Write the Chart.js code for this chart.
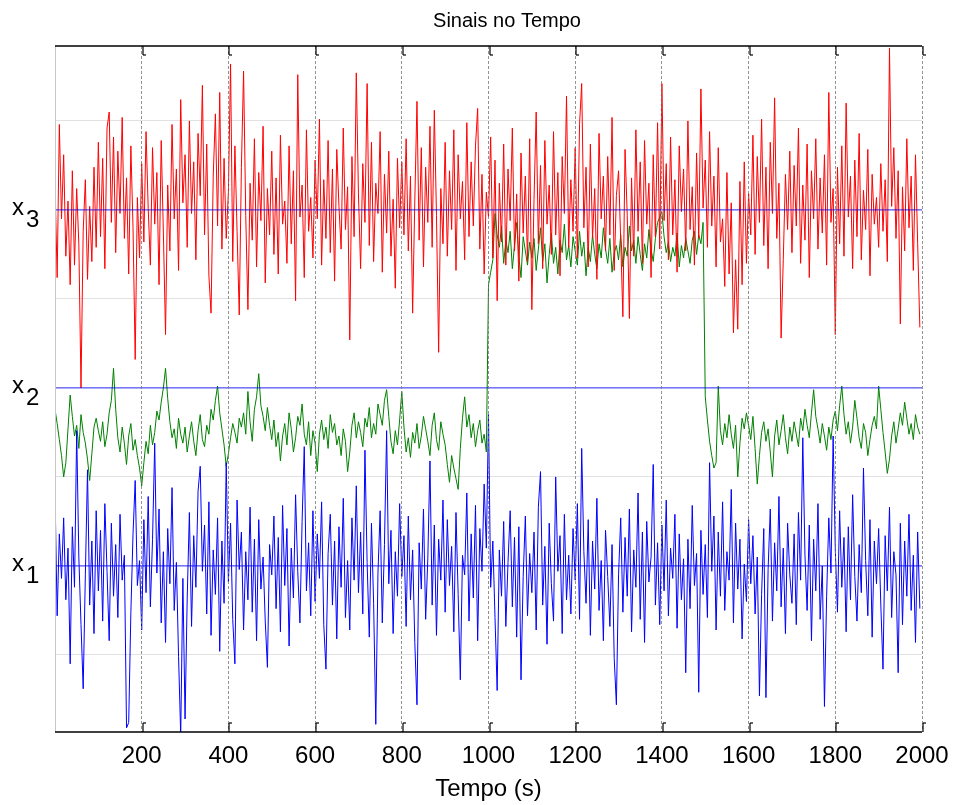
<!DOCTYPE html>
<html>
<head>
<meta charset="utf-8">
<title>Sinais no Tempo</title>
<script src="https://cdn.jsdelivr.net/npm/chart.js@4.4.1/dist/chart.umd.min.js"></script>
<style>
  html, body { margin: 0; padding: 0; background: #fff; }
  canvas { display: block; }
</style>
</head>
<body>
<canvas id="sinais" width="955" height="805"></canvas>
<script>
// one sample every 5 s, from t = 0
const sampleStep = 5

// x3 (red), 100 s per row
const x3Values = [
    3.15, 2.62, 3.48, 2.95, 3.31, 2.74, 3.05, 2.58, 3.22, 2.69, 3.12, 2.81, 2.00, 2.88, 3.17, 2.61, 3.02, 2.71, 3.24, 2.79,
    3.38, 2.85, 3.29, 2.67, 3.46, 3.55, 2.93, 3.41, 2.76, 3.33, 2.98, 3.52, 2.84, 3.18, 2.64, 3.36, 2.90, 2.16, 3.07, 2.73,
    3.26, 2.82, 3.44, 3.01, 2.69, 3.35, 2.92, 3.21, 2.58, 3.39, 2.87, 2.30, 3.14, 2.77, 3.48, 2.95, 3.23, 2.66, 3.62, 3.04,
    3.31, 2.79, 3.50, 2.98, 3.27, 2.72, 3.43, 3.08, 3.70, 2.86, 3.37, 2.63, 2.42, 3.19, 3.54, 2.91, 3.66, 2.78, 3.29, 2.84,
    3.10, 3.82, 2.71, 3.36, 2.88, 2.41, 3.24, 3.78, 2.97, 2.44, 3.15, 2.83, 3.40, 2.68, 3.21, 2.94, 3.47, 2.59, 3.12, 2.86,
    3.33, 2.75, 3.18, 2.64, 3.42, 2.92, 3.05, 2.70, 3.36, 2.81, 3.22, 2.49, 3.76, 2.96, 3.14, 2.62, 3.45, 2.88, 3.07, 2.73,
    3.28, 2.95, 3.51, 2.69, 3.17, 2.84, 3.39, 2.76, 3.23, 2.60, 3.34, 3.02, 2.78, 3.46, 2.89, 3.13, 2.27, 3.30, 2.85, 3.77,
    3.09, 2.67, 3.26, 2.93, 3.71, 2.80, 3.38, 2.71, 3.15, 2.98, 3.44, 2.65, 3.20, 2.87, 3.33, 2.74, 3.06, 2.56, 3.29, 2.90,
    3.27, 2.86, 3.40, 2.77, 3.19, 2.42, 3.05, 3.61, 2.83, 3.35, 2.68, 3.24, 2.93, 3.47, 2.79, 3.56, 2.97, 2.20, 3.12, 2.81,
    3.38, 2.74, 3.22, 2.89, 3.45, 2.66, 3.31, 2.95, 3.16, 2.72, 3.49, 2.85, 3.27, 2.91, 3.36, 3.57, 2.78, 3.20, 2.64, 3.10,
    2.96, 3.41, 2.73, 3.28, 2.49, 3.15, 2.82, 3.37, 2.69, 3.23, 2.94, 3.46, 2.77, 3.09, 2.60, 3.32, 2.87, 3.19, 2.71, 3.40,
    2.44, 3.06, 3.55, 2.81, 3.25, 2.67, 3.39, 2.92, 3.14, 2.75, 3.44, 2.86, 3.21, 2.63, 3.30, 2.98, 3.64, 2.79, 3.17, 2.88,
    3.35, 2.73, 3.48, 3.71, 2.90, 3.24, 2.68, 3.37, 2.84, 3.12, 2.61, 3.43, 2.95, 3.19, 2.77, 3.30, 2.86, 3.52, 2.66, 3.08,
    3.22, 2.83, 2.40, 3.34, 2.97, 2.39, 3.18, 2.74, 3.45, 2.88, 3.27, 2.70, 3.39, 2.92, 3.15, 2.62, 3.31, 2.85, 3.49, 2.78,
    3.71, 2.94, 3.26, 2.72, 3.41, 2.86, 3.17, 2.65, 3.36, 2.99, 3.23, 2.77, 3.50, 2.89, 3.13, 2.69, 3.32, 2.84, 3.68, 3.01,
    3.28, 2.79, 3.44, 2.91, 3.19, 2.68, 3.35, 2.82, 2.95, 2.57, 3.21, 2.64, 3.04, 2.31, 2.72, 2.33, 3.16, 2.58, 3.27, 2.70,
    3.09, 2.86, 3.42, 2.75, 3.30, 2.93, 3.51, 2.80, 3.24, 2.67, 3.38, 2.98, 3.63, 2.84, 3.15, 2.28, 2.72, 3.20, 2.89, 3.33,
    2.76, 3.25, 2.91, 3.46, 2.70, 3.14, 2.83, 3.37, 2.62, 3.22, 2.95, 3.40, 2.78, 3.18, 2.87, 3.31, 2.69, 3.66, 2.93, 3.12,
    2.30, 3.24, 2.81, 3.36, 2.74, 3.60, 2.96, 3.19, 2.67, 3.28, 2.85, 3.43, 2.72, 3.11, 2.89, 3.34, 2.63, 3.20, 2.92, 3.07,
    2.79, 3.26, 2.88, 3.17, 2.71, 3.91, 3.02, 3.35, 2.84, 3.22, 2.36, 3.13, 2.77, 3.40, 2.90, 3.19, 2.66, 3.31, 2.81, 2.34
]

// x2 (green), steps up at 1000 s and back down at 1500 s
const x2Values = [
    1.88, 1.80, 1.71, 1.62, 1.50, 1.58, 1.77, 1.96, 1.84, 1.73, 1.79, 1.66, 1.85, 1.75, 1.69, 1.60, 1.48, 1.63, 1.78, 1.83,
    1.76, 1.70, 1.81, 1.67, 1.74, 1.86, 1.93, 2.11, 1.88, 1.72, 1.64, 1.78, 1.69, 1.57, 1.73, 1.80, 1.65, 1.71, 1.62, 1.55,
    1.45, 1.58, 1.70, 1.63, 1.79, 1.68, 1.75, 1.87, 1.82, 1.92, 2.00, 2.11, 1.94, 1.81, 1.72, 1.77, 1.66, 1.83, 1.74, 1.69,
    1.78, 1.64, 1.73, 1.81, 1.70, 1.62, 1.76, 1.85, 1.71, 1.67, 1.79, 1.74, 1.88, 1.82, 1.93, 2.01, 1.86, 1.77, 1.68, 1.56,
    1.63, 1.72, 1.80, 1.75, 1.69, 1.83, 1.78, 1.86, 1.74, 1.98, 1.81, 1.70, 1.88, 1.95, 2.08, 1.90, 1.84, 1.76, 1.89, 1.79,
    1.71, 1.82, 1.67, 1.75, 1.59, 1.73, 1.80, 1.68, 1.86, 1.77, 1.64, 1.72, 1.84, 1.79, 1.91, 1.74, 1.68, 1.81, 1.62, 1.76,
    1.69, 1.53, 1.74, 1.82, 1.71, 1.78, 1.66, 1.85, 1.75, 1.80, 1.68, 1.73, 1.62, 1.77, 1.70, 1.53, 1.64, 1.79, 1.86, 1.72,
    1.81, 1.75, 1.67, 1.83, 1.78, 1.89, 1.72, 1.80, 1.74, 1.91, 1.85, 1.79, 1.93, 1.99, 1.84, 1.70, 1.63, 1.76, 1.68, 1.82,
    1.98, 1.78, 1.64, 1.72, 1.61, 1.75, 1.69, 1.80, 1.66, 1.73, 1.84, 1.77, 1.70, 1.62, 1.79, 1.86, 1.71, 1.65, 1.81, 1.74,
    1.68, 1.57, 1.47, 1.62, 1.55, 1.49, 1.43, 1.66, 1.83, 1.95, 1.78, 1.85, 1.72, 1.80, 1.67, 1.76, 1.82, 1.69, 1.74, 1.64,
    2.58, 2.65, 2.72, 2.98, 2.86, 2.79, 2.91, 2.70, 2.83, 2.76, 2.88, 2.67, 2.80, 2.93, 2.74, 2.62, 2.85, 2.77, 2.69, 2.82,
    2.73, 2.84, 2.66, 2.78, 2.90, 2.71, 2.81, 2.59, 2.75, 2.87, 2.70, 2.79, 2.64, 2.83, 2.76, 2.92, 2.72, 2.80, 2.68, 2.85,
    2.77, 2.69, 2.88, 2.74, 2.82, 2.63, 2.79, 2.71, 2.86, 2.75, 2.67, 2.81, 2.73, 2.90, 2.78, 2.70, 2.84, 2.65, 2.76, 2.80,
    2.72, 2.86, 2.68, 2.79, 2.74, 2.91, 2.77, 2.83, 2.70, 2.85, 2.75, 2.66, 2.81, 2.73, 2.89, 2.78, 2.71, 2.84, 2.93, 2.96,
    2.99, 2.85, 2.76, 2.82, 2.71, 2.79, 2.74, 2.87, 2.68, 2.80, 2.73, 2.84, 2.77, 2.70, 2.83, 2.88, 2.75, 2.86, 2.81, 2.93,
    1.95, 1.82, 1.70, 1.62, 1.55, 1.58, 2.01, 1.76, 1.68, 1.80, 1.72, 1.85, 1.74, 1.66, 1.79, 1.50, 1.69, 1.83, 1.77, 1.86,
    1.79, 1.71, 1.84, 1.66, 1.46, 1.62, 1.75, 1.81, 1.70, 1.77, 1.64, 1.50, 1.73, 1.82, 1.68, 1.76, 1.85, 1.72, 1.63, 1.78,
    1.70, 1.81, 1.74, 1.67, 1.83, 1.76, 1.88, 1.79, 1.72, 1.86, 1.99, 1.84, 1.77, 1.69, 1.80, 1.73, 1.65, 1.78, 1.71, 1.82,
    1.87, 1.76, 1.90, 2.01, 1.85, 1.74, 1.81, 1.69, 1.78, 1.93, 1.83, 1.72, 1.66, 1.80, 1.75, 1.62, 1.71, 1.79, 1.84, 1.77,
    2.01, 1.88, 1.75, 1.64, 1.52, 1.60, 1.73, 1.81, 1.69, 1.77, 1.86, 1.79, 1.92, 1.83, 1.74, 1.80, 1.71, 1.85, 1.78, 1.74
]

// x1 (blue)
const x1Values = [
    1.41, 0.72, 1.18, 0.93, 1.27, 0.81, 1.10, 0.45, 1.22, 0.88, 1.76, 1.05, 0.67, 0.31, 0.95, 1.54, 0.78, 1.14, 0.62, 1.31,
    0.86, 1.20, 0.69, 1.35, 0.97, 0.58, 1.24, 0.83, 1.12, 0.71, 1.29, 0.92, 1.06, 0.09, 0.12, 0.74, 1.18, 1.48, 0.89, 1.03,
    0.64, 1.26, 0.85, 1.39, 0.77, 1.15, 1.69, 0.96, 1.32, 0.68, 1.08, 0.57, 1.21, 0.90, 1.44, 0.75, 1.02, 0.49, 0.05, 0.93,
    0.14, 0.82, 1.30, 0.66, 1.17, 0.88, 1.42, 1.56, 0.97, 1.23, 0.73, 1.36, 0.61, 1.09, 0.84, 1.27, 0.52, 1.14, 0.79, 1.58,
    0.91, 1.24, 0.70, 0.45, 1.37, 0.98, 1.19, 0.64, 1.08, 0.81, 1.33, 0.74, 1.15, 0.58, 1.26, 0.87, 1.05, 0.69, 0.43, 1.12,
    0.95, 1.28, 0.76, 1.16, 0.63, 1.34, 0.89, 1.21, 0.55, 1.10, 0.82, 1.40, 0.97, 0.68, 1.25, 1.67, 0.86, 1.13, 0.72, 1.31,
    0.80, 1.18, 0.93, 1.36, 0.67, 0.42, 1.07, 1.29, 0.78, 1.14, 0.59, 1.22, 0.88, 1.38, 0.71, 1.03, 0.64, 1.27, 0.92, 1.45,
    0.85, 1.19, 0.73, 1.65, 1.02, 0.60, 1.24, 0.79, 0.11, 0.96, 1.31, 0.68, 1.12, 1.76, 0.90, 1.20, 0.62, 1.08, 0.83, 1.35,
    0.94, 1.17, 0.66, 1.28, 0.81, 1.09, 0.57, 0.22, 1.13, 0.87, 1.32, 0.70, 1.04, 1.59, 0.78, 1.23, 0.61, 1.15, 0.92, 1.37,
    0.74, 1.26, 0.89, 1.11, 0.63, 1.30, 0.84, 0.36, 1.06, 0.95, 1.41, 0.69, 1.18, 0.82, 1.34, 0.58, 1.21, 0.97, 1.46, 1.10,
    1.85, 0.88, 1.14, 0.71, 0.30, 1.09, 0.83, 1.25, 0.66, 1.02, 1.31, 0.77, 1.16, 0.60, 1.22, 0.36, 0.94, 1.28, 0.72, 1.07,
    0.85, 1.19, 0.64, 1.33, 1.53, 0.78, 1.11, 0.56, 1.24, 0.90, 0.69, 1.50, 0.97, 1.17, 0.62, 1.29, 0.81, 1.06, 0.73, 1.21,
    0.92, 1.35, 0.70, 1.66, 1.08, 0.79, 1.26, 0.61, 1.14, 0.87, 1.38, 0.75, 1.03, 0.58, 1.20, 0.94, 0.66, 1.12, 0.48, 0.22,
    0.95, 1.27, 0.74, 1.16, 0.83, 1.32, 0.63, 1.09, 0.88, 1.41, 0.70, 1.19, 0.57, 1.25, 0.91, 1.05, 1.57, 0.78, 1.13, 0.67,
    1.23, 0.86, 1.37, 0.72, 1.10, 0.93, 1.29, 0.65, 1.18, 0.81, 1.04, 0.40, 1.15, 0.76, 1.34, 0.89, 1.07, 0.29, 1.20, 0.84,
    1.12, 0.71, 1.58, 0.97, 1.28, 0.64, 1.19, 0.83, 1.36, 0.75, 1.08, 0.92, 1.43, 0.68, 1.24, 0.87, 1.15, 0.59, 1.01, 0.80,
    1.26, 0.90, 1.17, 0.73, 1.05, 0.27, 0.84, 1.21, 0.26, 0.98, 1.32, 0.69, 1.13, 0.86, 1.39, 0.77, 1.10, 0.62, 1.24, 0.95,
    0.79, 1.18, 0.67, 1.30, 0.92, 1.72, 1.06, 0.75, 1.23, 0.58, 1.15, 0.86, 1.35, 0.70, 1.00, 0.21, 0.83, 1.27, 0.96, 1.73,
    1.09, 0.74, 1.31, 0.88, 1.16, 0.63, 1.22, 0.81, 1.40, 0.94, 0.69, 1.12, 0.85, 1.55, 1.03, 0.72, 1.26, 0.60, 1.14, 0.90,
    1.21, 0.78, 0.42, 1.17, 0.86, 1.33, 0.71, 1.08, 0.95, 0.40, 1.24, 0.67, 1.14, 0.83, 1.29, 0.75, 1.06, 0.57, 1.19, 0.76
]

// reference level of each channel and its label
const baseLevels = [1, 2, 3]
const yTickLabels = ['x1', 'x2', 'x3']
const yGridValues = [0.5, 1, 1.5, 2, 2.5, 3, 3.5]
const xTickValues = [200, 400, 600, 800, 1000, 1200, 1400, 1600, 1800, 2000]
const xMax = 2000
const chartTitle = 'Sinais no Tempo'

const fontFamily = '"Liberation Sans", Arial, Helvetica, sans-serif'

function toPoints(values) {
    return values.map((v, i) => ({ x: i * sampleStep, y: v }))
}

function signal(values, color, order) {
    return {
        data: toPoints(values),
        borderColor: color,
        borderWidth: 1,
        pointRadius: 0,
        tension: 0,
        fill: false,
        order: order
    }
}

// blue horizontal line at each channel level
const levelLines = baseLevels.map(level => ({
    data: [{ x: 0, y: level }, { x: xMax, y: level }],
    borderColor: 'rgba(0, 0, 255, 0.8)',
    borderWidth: 1,
    pointRadius: 0,
    fill: false,
    order: 0
}))

// frame, inner tick marks, title and the x with subscript labels
const framePlugin = {
    id: 'frame',
    afterDraw(chart) {
        const ctx = chart.ctx
        const a = chart.chartArea
        const x = chart.scales.x
        const y = chart.scales.y
        const line = (x0, y0, x1, y1) => {
            ctx.beginPath()
            ctx.moveTo(x0, y0)
            ctx.lineTo(x1, y1)
            ctx.stroke()
        }
        ctx.save()
        ctx.setLineDash([])
        ctx.strokeStyle = '#c8c8c8'
        ctx.lineWidth = 1
        line(a.left + 0.5, a.top, a.left + 0.5, a.bottom)

        ctx.strokeStyle = '#000'
        ctx.lineWidth = 1.5
        line(a.left, a.top, a.right, a.top)
        line(a.left, a.bottom, a.right, a.bottom)

        ctx.lineWidth = 1.2
        xTickValues.forEach(v => {
            const px = Math.round(x.getPixelForValue(v)) + 1
            line(px, a.top, px, a.top + 9)
            line(px, a.top + 9, px + 3, a.top + 9)
            line(px, a.bottom, px, a.bottom - 9)
            line(px, a.bottom - 9, px + 3, a.bottom - 9)
        })

        ctx.fillStyle = '#000'
        ctx.textAlign = 'center'
        ctx.textBaseline = 'middle'
        ctx.font = '20px ' + fontFamily
        ctx.fillText(chartTitle, 507, 21)

        ctx.textBaseline = 'alphabetic'
        ctx.textAlign = 'left'
        ctx.font = '24px ' + fontFamily
        yTickLabels.forEach((label, k) => {
            const py = y.getPixelForValue(baseLevels[k])
            ctx.fillText(label.charAt(0), 12, py + 5)
            ctx.fillText(label.slice(1), 26, py + 17)
        })
        ctx.restore()
    }
}

const sinais = new Chart(document.getElementById('sinais'), {
    type: 'line',
    data: {
        datasets: [
            signal(x2Values, '#008000', 3),
            signal(x1Values, '#0000ff', 2),
            signal(x3Values, '#ff0000', 1)
        ].concat(levelLines)
    },
    options: {
        responsive: false,
        animation: false,
        layout: { padding: { left: 0, right: 33, top: 46, bottom: 0 } },
        plugins: {
            legend: { display: false },
            tooltip: { enabled: false },
            title: { display: false }
        },
        scales: {
            x: {
                type: 'linear',
                min: 0,
                max: xMax,
                afterBuildTicks: scale => {
                    scale.ticks = [0].concat(xTickValues).map(v => ({ value: v }))
                },
                afterFit: scale => {
                    scale.height = 73
                    scale.paddingLeft = 0
                    scale.paddingRight = 0
                },
                grid: {
                    color: c => (c.tick && c.tick.value === 0) ? 'rgba(0,0,0,0)' : 'rgba(120,120,120,0.8)',
                    lineWidth: 1,
                    drawTicks: false,
                    z: 1
                },
                border: { display: false, dash: [3, 2] },
                ticks: {
                    color: '#000',
                    font: { family: fontFamily, size: 24 },
                    padding: 10,
                    maxRotation: 0,
                    autoSkip: false,
                    callback: v => v === 0 ? '' : String(v)
                },
                title: {
                    display: true,
                    text: 'Tempo (s)',
                    color: '#000',
                    font: { family: fontFamily, size: 24 },
                    padding: { top: 0, bottom: 1 }
                }
            },
            y: {
                min: 0.067,
                max: 3.921,
                afterBuildTicks: scale => {
                    scale.ticks = yGridValues.map(v => ({ value: v }))
                },
                afterFit: scale => { scale.width = 55 },
                ticks: { display: false },
                grid: { color: '#e2e2e2', lineWidth: 1, drawTicks: false },
                border: { display: false }
            }
        }
    },
    plugins: [framePlugin]
})
</script>
</body>
</html>
